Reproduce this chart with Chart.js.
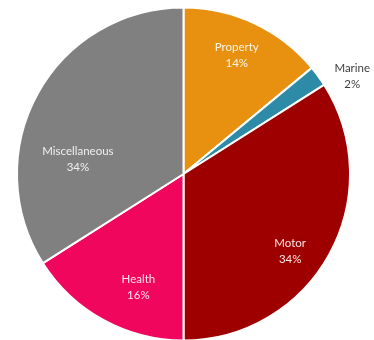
<!DOCTYPE html>
<html>
<head>
<meta charset="utf-8">
<script src="https://cdn.jsdelivr.net/npm/chart.js@4"></script>
<style>
  html, body { margin: 0; padding: 0; background: #ffffff; }
  #wrap { width: 374px; height: 340px; }
</style>
</head>
<body>
<div id="wrap"><canvas id="pie" width="374" height="340"></canvas></div>
<script>
// Portfolio split by line of business (% of premiums)
const categories = ['Property', 'Marine', 'Motor', 'Health', 'Miscellaneous'];
const shares = [14, 2, 34, 16, 34];
const sliceColors = ['#E8900F', '#2D8BA8', '#9E0000', '#F0065C', '#808080'];

// Label placement per slice: angle shift (deg) from the slice middle and distance as a fraction of the radius
const labelPlacement = [
  { shift: -1, dist: 0.78, color: '#FFF4E6' },
  { shift: 6, dist: 1.17, color: '#404040' },
  { shift: 7, dist: 0.79, color: '#FBE3E3' },
  { shift: -7, dist: 0.73, color: '#FFE6EE' },
  { shift: -21, dist: 0.64, color: '#EFEFEF' }
];

const sliceLabels = {
  id: 'sliceLabels',
  afterDatasetsDraw(chart) {
    const ctx = chart.ctx;
    const meta = chart.getDatasetMeta(0);
    const total = shares.reduce((a, b) => a + b, 0);
    ctx.save();
    ctx.font = '11.5px Lato, "Open Sans", sans-serif';
    ctx.textAlign = 'center';
    ctx.textBaseline = 'middle';
    meta.data.forEach((arc, i) => {
      const p = arc.getProps(['x', 'y', 'startAngle', 'endAngle', 'outerRadius'], true);
      const mid = (p.startAngle + p.endAngle) / 2 + labelPlacement[i].shift * Math.PI / 180;
      const r = p.outerRadius * labelPlacement[i].dist;
      const x = p.x + Math.cos(mid) * r;
      const y = p.y + Math.sin(mid) * r;
      const pct = Math.round(shares[i] / total * 100) + '%';
      ctx.fillStyle = labelPlacement[i].color;
      ctx.fillText(categories[i], x, y - 8);
      ctx.fillText(pct, x, y + 8);
    });
    ctx.restore();
  }
};

new Chart(document.getElementById('pie'), {
  type: 'pie',
  data: {
    labels: categories,
    datasets: [{
      data: shares,
      backgroundColor: sliceColors,
      borderColor: '#ffffff',
      borderWidth: 2,
      clip: false
    }]
  },
  options: {
    responsive: false,
    animation: false,
    radius: 166.5,
    layout: { padding: { left: 0, right: 7, top: 8, bottom: 0 } },
    plugins: {
      legend: { display: false },
      tooltip: { enabled: false }
    }
  },
  plugins: [sliceLabels]
});
</script>
</body>
</html>
